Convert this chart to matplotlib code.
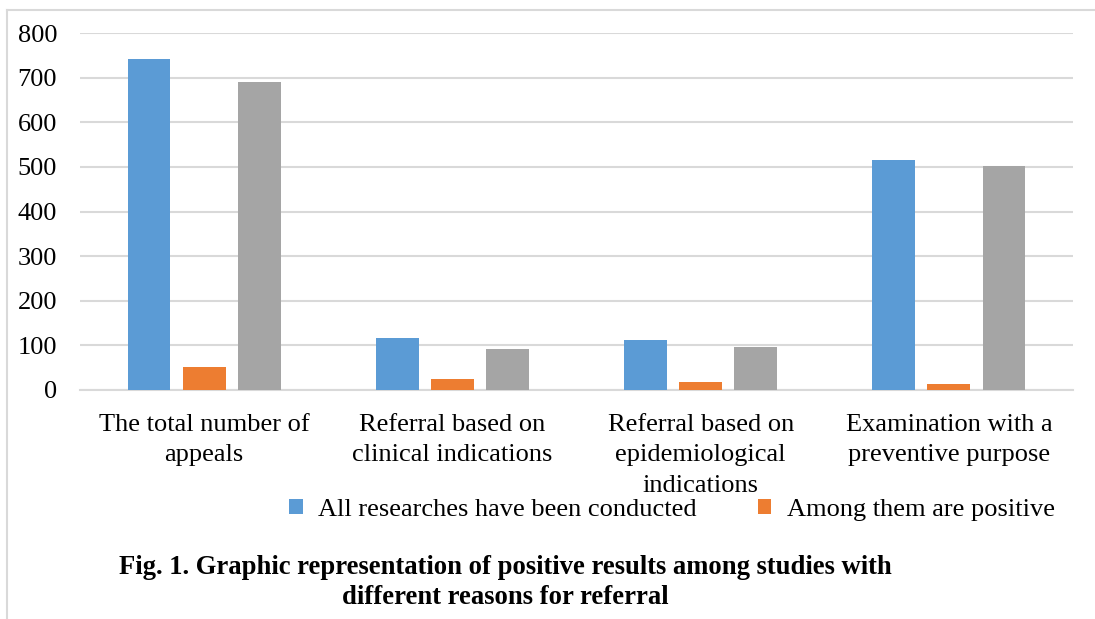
import numpy as np
import matplotlib
matplotlib.use("Agg")
import matplotlib.pyplot as plt
from matplotlib.patches import Patch
from matplotlib.lines import Line2D

# data
categories = ["The total number of\nappeals",
              "Referral based on\nclinical indications",
              "Referral based on\nepidemiological\nindications",
              "Examination with a\npreventive purpose"]
all_conducted = [742, 116, 112, 515]
positive = [52, 25, 18, 13]
third_series = [690, 92, 96, 502]
legend_labels = ["All researches have been conducted", "Among them are positive"]

blue = "#5b9bd5"
orange = "#ed7d31"
gray = "#a5a5a5"
grid_gray = "#d9d9d9"

plt.rcParams['font.family'] = ['Liberation Serif', 'DejaVu Serif']

W, H = 1095, 619
fig = plt.figure(figsize=(W / 100, H / 100), dpi=100)

# outer chart frame (top and left edges visible)
fig.add_artist(Line2D([7 / W, 7 / W], [0, 1 - 10 / H], color=grid_gray, lw=1.5))
fig.add_artist(Line2D([7 / W, 1], [1 - 10 / H, 1 - 10 / H], color=grid_gray, lw=1.5))

left, right, top, bottom = 80, 1073, 33, 390
ax = fig.add_axes([left / W, 1 - bottom / H, (right - left) / W, (bottom - top) / H])

x = np.arange(len(categories))
bw = 0.173
step = 0.222
ax.bar(x - step, all_conducted, bw, color=blue, zorder=3)
ax.bar(x, positive, bw, color=orange, zorder=3)
ax.bar(x + step, third_series, bw, color=gray, zorder=3)

ax.set_xlim(-0.5, 3.5)
ax.set_ylim(0, 800)
ax.set_yticks(range(0, 801, 100))
ax.yaxis.grid(True, color=grid_gray, lw=1.5, zorder=0)
ax.set_axisbelow(True)
for s in ["top", "right", "left"]:
    ax.spines[s].set_visible(False)
ax.spines["bottom"].set_color(grid_gray)
ax.spines["bottom"].set_linewidth(1.5)
ax.tick_params(axis="both", length=0, labelsize=19)
ax.tick_params(axis="y", pad=16.5)
ax.tick_params(axis="x", pad=17)
ax.set_xticks(x)
ax.set_xticklabels(categories, linespacing=1.5)

handles = [Patch(facecolor=blue), Patch(facecolor=orange)]
fig.legend(handles, legend_labels, loc="center", bbox_to_anchor=(672 / W, 1 - 510 / H),
           ncol=2, frameon=False, fontsize=19, handlelength=0.5, handleheight=0.5,
           handletextpad=0.6, columnspacing=2.3, borderpad=0, borderaxespad=0)

fig.text(505 / W, 1 - 567 / H, "Fig. 1. Graphic representation of positive results among studies with",
         ha="center", va="center", fontsize=19.2, fontweight="bold")
fig.text(505 / W, 1 - 598 / H, "different reasons for referral",
         ha="center", va="center", fontsize=19.2, fontweight="bold")

fig.savefig("out.png", dpi=100)
